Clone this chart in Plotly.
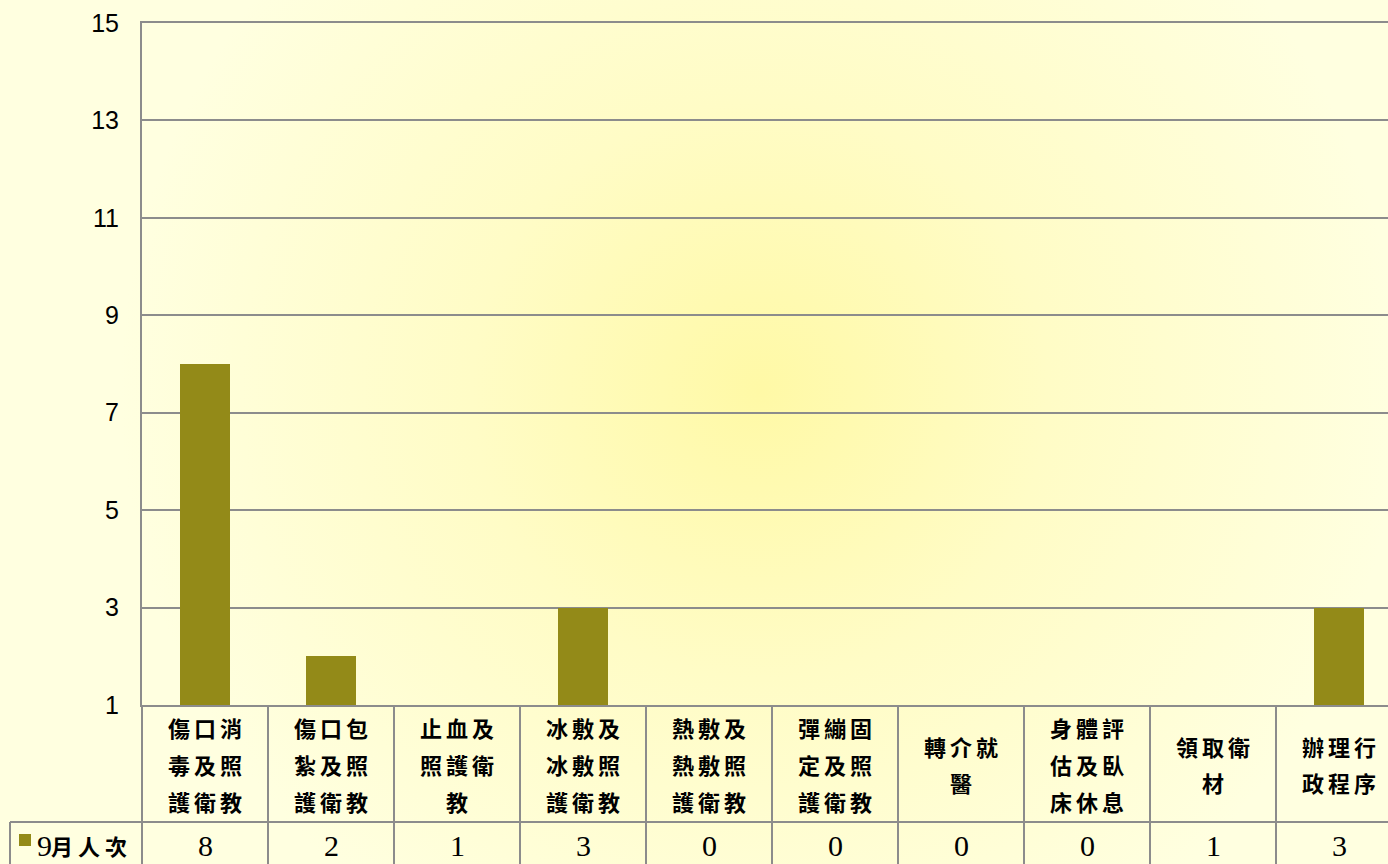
import base64
import plotly.graph_objects as go

# ---- data ----
categories = [
    ["傷口消", "毒及照", "護衛教"],
    ["傷口包", "紮及照", "護衛教"],
    ["止血及", "照護衛", "教"],
    ["冰敷及", "冰敷照", "護衛教"],
    ["熱敷及", "熱敷照", "護衛教"],
    ["彈繃固", "定及照", "護衛教"],
    ["轉介就", "醫"],
    ["身體評", "估及臥", "床休息"],
    ["領取衛", "材"],
    ["辦理行", "政程序"],
]
series_name = "9月人次"
values = [8, 2, 1, 3, 0, 0, 0, 0, 1, 3]
y_ticks = [1, 3, 5, 7, 9, 11, 13, 15]

# ---- geometry ----
W, H = 1388, 864
L, T, B_PIX = 142, 23, 705
PW, PH = W - L, B_PIX - T
CAT_W = 126
n = len(values)
x_max = -0.5 + PW / CAT_W

def px(x):
    return (x - L) / PW

def py(y):
    return (B_PIX - y) / PH

BAR = "#938A18"
GRID = "#8C8C8C"

fig = go.Figure()
fig.add_trace(go.Bar(
    x=list(range(n)), y=values, width=0.4,
    marker=dict(color=BAR, line=dict(width=0)),
    name=series_name, showlegend=False, hoverinfo="skip",
))

# background radial gradient
svg = (
    f"<svg xmlns='http://www.w3.org/2000/svg' width='{W}' height='{H}'>"
    "<defs><radialGradient id='g' cx='760' cy='390' r='640' gradientUnits='userSpaceOnUse'>"
    "<stop offset='0' stop-color='#FFF9A6'/>"
    "<stop offset='0.45' stop-color='#FFFCC6'/>"
    "<stop offset='1' stop-color='#FFFFE0'/>"
    "</radialGradient></defs>"
    f"<rect width='{W}' height='{H}' fill='url(#g)'/></svg>"
)
uri = "data:image/svg+xml;base64," + base64.b64encode(svg.encode()).decode()

shapes = []
line = dict(color=GRID, width=2)
for i in range(n):
    xp = px(L + CAT_W * i)
    shapes.append(dict(type="line", xref="paper", yref="paper",
                       x0=xp, x1=xp, y0=py(705), y1=py(870), line=line))
shapes.append(dict(type="line", xref="paper", yref="paper",
                   x0=px(10), x1=px(10), y0=py(822), y1=py(870), line=line))
shapes.append(dict(type="line", xref="paper", yref="paper",
                   x0=px(10), x1=px(W + 20), y0=py(822), y1=py(822), line=line))
shapes.append(dict(type="rect", xref="paper", yref="paper",
                   x0=px(19), x1=px(31), y0=py(834), y1=py(846),
                   fillcolor=BAR, line=dict(width=0)))

annotations = []
CJK = "Noto Sans CJK TC"
for i, lines in enumerate(categories):
    cx = L + CAT_W * (i + 0.5)
    m = len(lines)
    for k, txt in enumerate(lines):
        cy = 764 + (k - (m - 1) / 2) * 37
        for j, ch in enumerate(txt):
            chx = cx + (j - (len(txt) - 1) / 2) * 26
            annotations.append(dict(
                xref="paper", yref="paper", x=px(chx), y=py(cy),
                text="<b>" + ch + "</b>", showarrow=False,
                xanchor="center", yanchor="middle",
                font=dict(family=CJK, size=22, color="black"),
            ))
    annotations.append(dict(
        xref="paper", yref="paper", x=px(cx), y=py(845),
        text=str(values[i]), showarrow=False, xanchor="center", yanchor="middle",
        font=dict(family="Liberation Serif", size=30, color="black"),
    ))

annotations.append(dict(
    xref="paper", yref="paper", x=px(35), y=py(845),
    text="9", showarrow=False, xanchor="left", yanchor="middle",
    font=dict(family="Liberation Serif", size=30, color="black"),
))
for j, ch in enumerate(series_name[1:]):
    annotations.append(dict(
        xref="paper", yref="paper", x=px(62 + 27 * j), y=py(845),
        text="<b>" + ch + "</b>", showarrow=False, xanchor="center", yanchor="middle",
        font=dict(family=CJK, size=22, color="black"),
    ))

fig.update_layout(
    width=W, height=H,
    margin=dict(l=L, r=0, t=T, b=H - B_PIX, pad=0),
    paper_bgcolor="#FFFFE0",
    plot_bgcolor="rgba(0,0,0,0)",
    images=[dict(source=uri, xref="paper", yref="paper",
                 x=px(0), y=py(0), sizex=W / PW, sizey=H / PH,
                 xanchor="left", yanchor="top", sizing="stretch", layer="below")],
    xaxis=dict(range=[-0.5, x_max], showticklabels=False, showgrid=False,
               zeroline=False, showline=True, linecolor=GRID, linewidth=2,
               mirror=True, ticks=""),
    yaxis=dict(range=[1, 15], tickvals=y_ticks, showgrid=True, gridcolor=GRID,
               gridwidth=2, zeroline=False, showline=True, linecolor=GRID,
               linewidth=2, ticks="", ticklabelstandoff=16,
               tickfont=dict(family="Liberation Sans", size=25, color="black")),
    shapes=shapes,
    annotations=annotations,
    bargap=0,
)

fig.write_html(
    "out.html",
    config={"displayModeBar": False},
    post_script="document.body.style.margin='0';document.body.style.overflow='hidden';",
)
